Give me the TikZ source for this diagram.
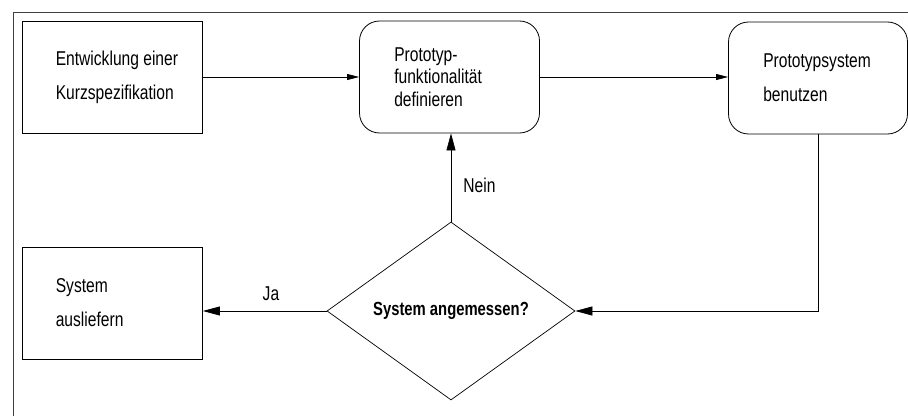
\documentclass[tikz,border=0pt]{standalone}
\usepackage{fontspec}
\setmainfont{Liberation Sans}[FakeStretch=0.78]
\usetikzlibrary{shapes.geometric, arrows.meta, positioning}

\tikzset{
  block/.style={draw, line width=0.8pt, minimum width=180pt, minimum height=112pt, inner sep=0pt},
  roundblock/.style={block, rounded corners=20pt},
  blocktext/.style={inner sep=0pt, align=left, font=\fontsize{20}{34}\selectfont},
  decision/.style={draw, diamond, line width=0.7pt, minimum width=248pt, minimum height=178pt,
    inner sep=0pt, font=\bfseries\fontsize{19}{22}\selectfont},
  flow/.style={line width=0.7pt, -{Triangle[length=12pt,width=6pt]}},
  bigflow/.style={line width=0.7pt, -{Triangle[length=17pt,width=9pt]}},
  answer/.style={inner sep=0pt, font=\fontsize{20}{22}\selectfont},
}

\begin{document}
\begin{tikzpicture}[x=1pt, y=1pt]
    \fill[white] (0,0) rectangle (908,416);
    \useasboundingbox (0,0) rectangle (908,416);
    % frame
    \draw[line width=0.8pt, black!75] (13,0) -- (13,404) -- (908,404);

    % boxes
    \node[block] (spec) at (112.5,339) {};
    \node[roundblock] (proto) at (449.5,339) {};
    \node[roundblock, minimum width=179pt] (use) at (818,338) {};
    \node[block] (ship) at (112.5,113) {};
    \node[decision] (check) at (451,105) {System angemessen?};

    \node[blocktext, right=33.5pt of spec.west] (spec text) {Entwicklung einer\\Kurzspezifikation};
    \node[blocktext, font=\fontsize{20}{22.5}\selectfont, right=35pt of proto.west] (proto text)
      {Prototyp-\\funktionalität\\definieren};
    \node[blocktext, right=35pt of use.west] (use text) {Prototypsystem\\benutzen};
    \node[blocktext, right=33.5pt of ship.west] (ship text) {System\\ausliefern};

    % connectors
    \draw[flow] (spec.east) -- (proto.west);
    \draw[flow] (proto.east) -- (proto.east -| use.west);
    \draw[bigflow] (use.south) |- (check.east);
    \draw[bigflow] (check.north) -- node[answer, pos=0.333, anchor=base west, xshift=12pt] (nein) {Nein}
      (check.north |- proto.south);
    \draw[bigflow] (check.west) -- node[answer, pos=0.45, anchor=base, yshift=11pt] (ja) {Ja}
      (check.west -| ship.east);
\end{tikzpicture}
\end{document}
